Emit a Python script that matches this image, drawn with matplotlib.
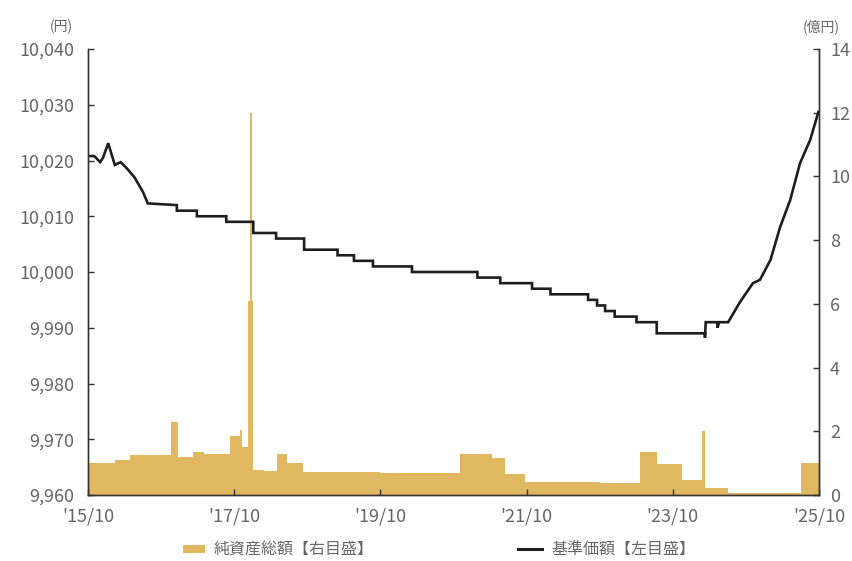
import matplotlib
matplotlib.use("Agg")
import matplotlib.pyplot as plt
from matplotlib.lines import Line2D
from matplotlib.patches import Patch
from matplotlib.ticker import FuncFormatter
import pandas as pd

plt.rcParams["font.family"] = ["Noto Sans CJK JP", "DejaVu Sans"]

# 基準価額 (left axis, 円)
price_dates = [
    "2015-10-01", "2015-11-01", "2015-12-01", "2015-12-15", "2016-01-10",
    "2016-02-12", "2016-03-12", "2016-04-12", "2016-05-20", "2016-07-01",
    "2016-07-26", "2016-12-18", "2016-12-18", "2017-03-28", "2017-03-28",
    "2017-08-22", "2017-08-22", "2018-01-04", "2018-01-04", "2018-04-28",
    "2018-04-28", "2018-09-15", "2018-09-15", "2019-03-01", "2019-03-01",
    "2019-05-22", "2019-05-22", "2019-08-25", "2019-08-25", "2020-03-07",
    "2020-03-07", "2021-01-28", "2021-01-28", "2021-05-22", "2021-05-22",
    "2021-10-28", "2021-10-28", "2022-01-28", "2022-01-28", "2022-08-04",
    "2022-08-04", "2022-09-18", "2022-09-18", "2022-10-28", "2022-10-28",
    "2022-12-15", "2022-12-15", "2023-04-03", "2023-04-03", "2023-07-13",
    "2023-07-13", "2024-03-10", "2024-03-10", "2024-03-14", "2024-05-10",
    "2024-05-12", "2024-05-20", "2024-07-04", "2024-09-01", "2024-11-05",
    "2024-12-10", "2025-02-01", "2025-03-20", "2025-05-10", "2025-06-28",
    "2025-08-18", "2025-09-28",
]
price_values = [
    10020.8, 10020.8, 10019.7, 10020.5, 10023.1,
    10019.2, 10019.7, 10018.6, 10017.0, 10014.4,
    10012.3, 10012, 10011, 10011, 10010,
    10010, 10009, 10009, 10007, 10007,
    10006, 10006, 10004, 10004, 10003,
    10003, 10002, 10002, 10001, 10001,
    10000, 10000, 9999, 9999, 9998,
    9998, 9997, 9997, 9996, 9996,
    9995, 9995, 9994, 9994, 9993,
    9993, 9992, 9992, 9991, 9991,
    9989, 9989, 9988.2, 9991, 9991,
    9990, 9991, 9991, 9994.6, 9998,
    9998.6, 10002.2, 10008, 10012.9, 10019.5,
    10023.7, 10028.7,
]

# 純資産総額 (right axis, 億円) - step levels starting at each date
asset_dates = [
    "2015-10-01", "2016-02-12", "2016-04-28", "2016-11-18", "2016-12-25",
    "2017-03-07", "2017-05-01", "2017-09-10", "2017-11-01", "2017-11-10",
    "2017-12-10", "2017-12-20", "2017-12-27", "2018-01-04", "2018-03-01",
    "2018-05-01", "2018-06-22", "2018-09-10", "2019-10-01", "2020-11-01",
    "2021-04-10", "2021-06-15", "2021-09-25", "2022-10-01", "2023-04-18",
    "2023-07-13", "2023-11-15", "2024-02-25", "2024-03-10", "2024-07-01",
    "2025-07-05", "2025-10-01",
]
asset_values = [
    1.02, 1.1, 1.25, 2.3, 1.2,
    1.35, 1.3, 1.85, 2.05, 1.5,
    6.1, 12.0, 6.1, 0.8, 0.75,
    1.28, 1.0, 0.72, 0.7, 1.3,
    1.15, 0.65, 0.42, 0.38, 1.35,
    0.97, 0.47, 2.0, 0.22, 0.07,
    1.0, 1.0,
]

xtick_dates = ["2015-10-01", "2017-10-01", "2019-10-01", "2021-10-01", "2023-10-01", "2025-10-01"]
xtick_labels = ["'15/10", "'17/10", "'19/10", "'21/10", "'23/10", "'25/10"]

gold = "#E0B862"
ink = "#1E1E1E"
grey = "#666666"

fig = plt.figure(figsize=(8.53, 5.61), dpi=100)
ax = fig.add_axes([88 / 853, 66 / 561, 731 / 853, 446 / 561])
ax2 = ax.twinx()

ax2.fill_between(pd.to_datetime(asset_dates), asset_values, 0, step="post",
                 color=gold, linewidth=0)
ax2.set_ylim(0, 14)
ax2.set_yticks(range(0, 15, 2))

ax.plot(pd.to_datetime(price_dates), price_values, color=ink, linewidth=1.9,
        solid_joinstyle="miter")
ax.set_ylim(9960, 10040)
ax.set_yticks(range(9960, 10041, 10))
ax.yaxis.set_major_formatter(FuncFormatter(lambda v, p: f"{v:,.0f}"))
ax.set_zorder(ax2.get_zorder() + 1)
ax.patch.set_visible(False)

ax.set_xlim(pd.Timestamp("2015-10-01"), pd.Timestamp("2025-10-01"))
ax.set_xticks(pd.to_datetime(xtick_dates))
ax.set_xticklabels(xtick_labels)

for a in (ax, ax2):
    a.spines["top"].set_visible(False)
    for s in ("left", "right", "bottom"):
        a.spines[s].set_color("#333333")
        a.spines[s].set_linewidth(1.0)
ax.tick_params(axis="y", direction="in", length=4, width=1, color="#333333",
               labelsize=13, labelcolor=grey, pad=10)
ax.tick_params(axis="x", direction="in", length=4, width=1, color="#333333",
               labelsize=13, labelcolor=grey, pad=9)
ax2.tick_params(axis="y", direction="in", length=4, width=1, color="#333333",
                labelsize=13, labelcolor=grey, pad=8)

fig.text(73 / 853, 1 - 27 / 561, "(円)", ha="right", va="center", fontsize=10, color=grey)
fig.text(803 / 853, 1 - 27 / 561, "(億円)", ha="left", va="center", fontsize=10, color=grey)

fig.legend(handles=[Patch(facecolor=gold, edgecolor="none", label="純資産総額【右目盛】")],
           loc="center left", bbox_to_anchor=(183 / 853, 1 - 550 / 561),
           frameon=False, fontsize=11.5, labelcolor=grey, borderpad=0,
           borderaxespad=0, handlelength=1.4, handleheight=0.45, handletextpad=0.5)
fig.legend(handles=[Line2D([], [], color=ink, linewidth=2.2, label="基準価額【左目盛】")],
           loc="center left", bbox_to_anchor=(518 / 853, 1 - 550 / 561),
           frameon=False, fontsize=11.5, labelcolor=grey, borderpad=0,
           borderaxespad=0, handlelength=1.5, handletextpad=0.6)

fig.savefig("out.png", dpi=100)
